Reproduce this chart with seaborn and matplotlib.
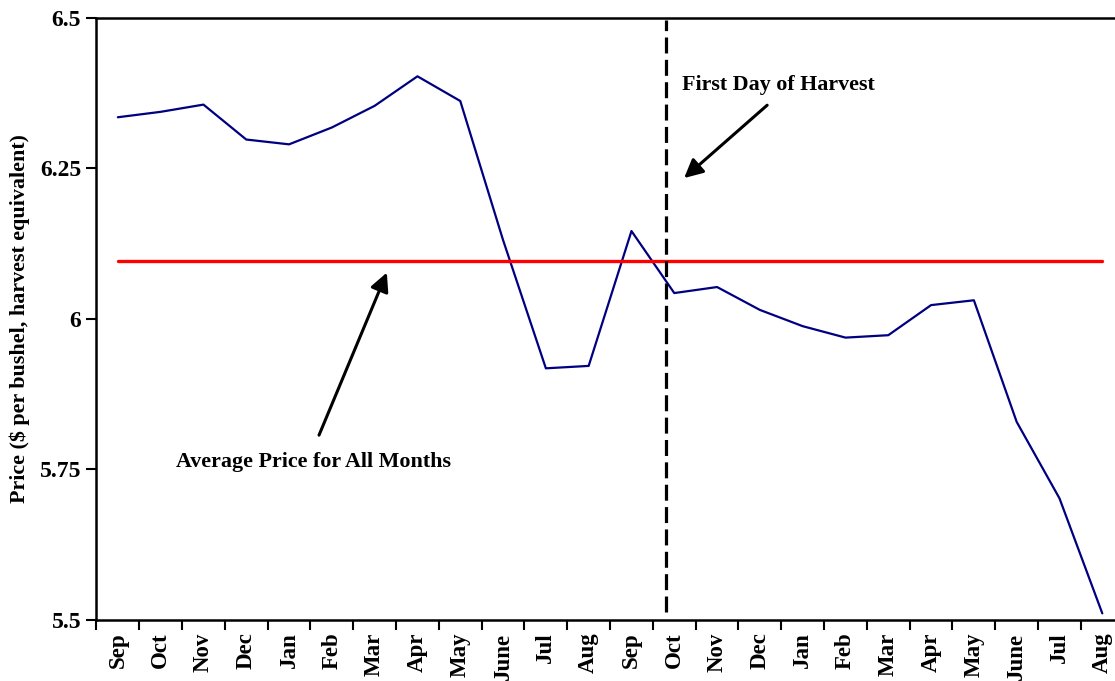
import numpy as np
import pandas as pd
import seaborn as sns
import matplotlib.pyplot as plt
from matplotlib.ticker import FixedLocator

# Monthly prices (two marketing years)
months = ["Sep", "Oct", "Nov", "Dec", "Jan", "Feb", "Mar", "Apr", "May", "June", "Jul", "Aug",
          "Sep", "Oct", "Nov", "Dec", "Jan", "Feb", "Mar", "Apr", "May", "June", "Jul", "Aug"]
prices = [6.335, 6.344, 6.356, 6.298, 6.290, 6.318, 6.354, 6.403, 6.362, 6.131, 5.918, 5.922,
          6.146, 6.043, 6.053, 6.015, 5.988, 5.969, 5.973, 6.023, 6.031, 5.829, 5.702, 5.511]
avg_price = 6.096
harvest_pos = 12.8
y_ticks = [5.5, 5.75, 6, 6.25, 6.5]
y_tick_labels = ["5.5", "5.75", "6", "6.25", "6.5"]

dataset = pd.DataFrame({"idx": np.arange(len(months)), "Month": months, "Price": prices})

sns.set_style("ticks")
plt.rcParams["font.family"] = ["Liberation Serif", "DejaVu Serif"]
plt.rcParams["font.weight"] = "bold"
plt.rcParams["text.color"] = "black"
plt.rcParams["xtick.color"] = "black"
plt.rcParams["ytick.color"] = "black"
plt.rcParams["axes.labelcolor"] = "black"

fig = plt.figure(figsize=(11.15, 6.81), dpi=100)
ax = fig.add_axes([0.0865, 0.0896, 0.9213, 0.8841])

# Price line
sns.lineplot(data=dataset, x="idx", y="Price", color="#000080", linewidth=1.6, ax=ax)

# Average price line
ax.plot([dataset["idx"].min(), dataset["idx"].max()], [avg_price, avg_price],
        color="red", linewidth=2.4, solid_capstyle="round")

# First day of harvest
ax.plot([harvest_pos, harvest_pos], [5.513, 6.497], color="black",
        linewidth=2.3, linestyle=(0, (5, 2)))

ax.set_xlim(-0.5, len(months) - 0.5)
ax.set_ylim(5.5, 6.5)

# Labels centered in categories, tick marks at category boundaries
ax.set_xticks(dataset["idx"])
ax.set_xticklabels(months, rotation=90, fontsize=16.5, fontweight="bold")
ax.xaxis.set_minor_locator(FixedLocator(np.arange(-0.5, len(months), 1.0)))
ax.tick_params(axis="x", which="major", length=0, pad=9)
ax.tick_params(axis="x", which="minor", length=7, width=1.5, direction="out", color="black")

ax.set_yticks(y_ticks)
ax.set_yticklabels(y_tick_labels, fontsize=17, fontweight="bold")
ax.tick_params(axis="y", length=7, width=1.5, direction="out", color="black", pad=4)

ax.set_xlabel("")
ax.set_ylabel("Price ($ per bushel, harvest equivalent)", fontsize=15.8, fontweight="bold", labelpad=7)

for side in ["left", "bottom", "top", "right"]:
    ax.spines[side].set_color("black")
    ax.spines[side].set_linewidth(1.8)

# Annotations
ax.text(13.18, 6.389, "First Day of Harvest", fontsize=15.8, fontweight="bold",
        ha="left", va="center")
ax.annotate("", xy=(13.23, 6.234), xytext=(15.17, 6.355),
            arrowprops=dict(arrowstyle="-|>", color="black", lw=2.2, mutation_scale=28,
                            shrinkA=0, shrinkB=0))

ax.text(4.57, 5.763, "Average Price for All Months", fontsize=15.8, fontweight="bold",
        ha="center", va="center")
ax.annotate("", xy=(6.285, 6.077), xytext=(4.70, 5.807),
            arrowprops=dict(arrowstyle="-|>", color="black", lw=2.2, mutation_scale=28,
                            shrinkA=0, shrinkB=0))

fig.savefig("out.png", dpi=100)
